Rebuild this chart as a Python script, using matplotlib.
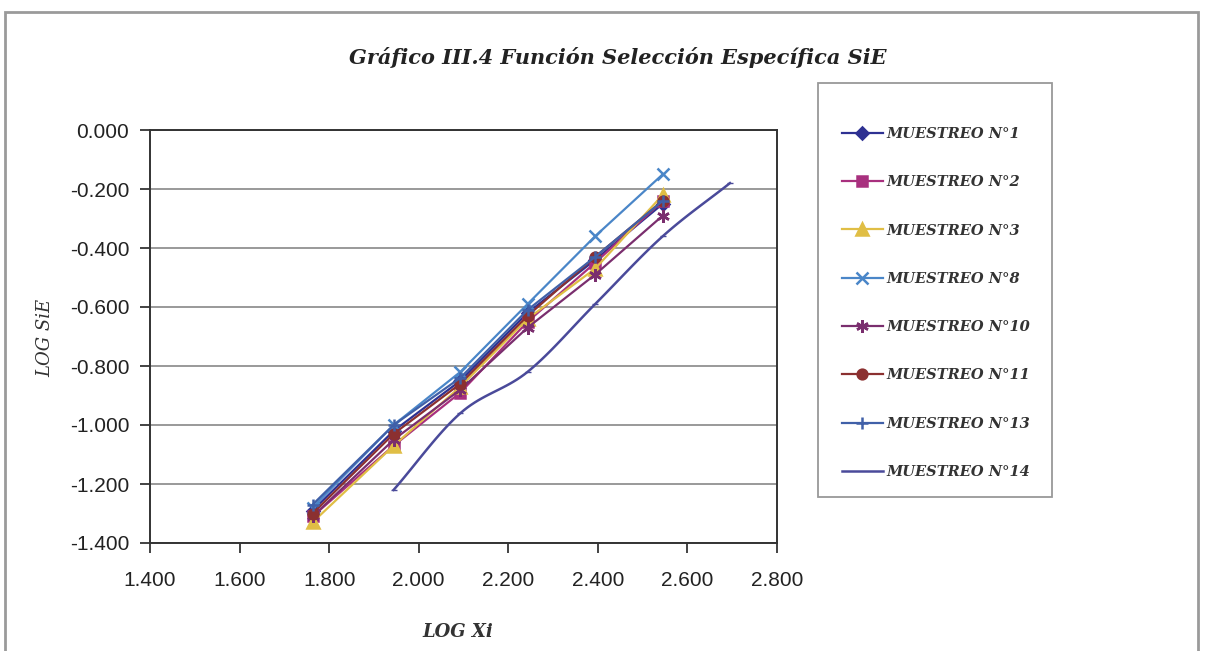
import numpy as np
import matplotlib
matplotlib.use('Agg')
import matplotlib.pyplot as plt
from matplotlib.patches import Rectangle
from matplotlib.lines import Line2D

# log of sieve sizes
log_x = [1.763, 1.944, 2.093, 2.243, 2.394, 2.545]
log_x14 = [1.944, 2.093, 2.243, 2.394, 2.545, 2.695]

m1 = [-1.29, -1.02, -0.85, -0.62, -0.44, -0.25]
m2 = [-1.31, -1.07, -0.89, -0.65, -0.45, -0.24]
m3 = [-1.33, -1.07, -0.87, -0.64, -0.47, -0.22]
m8 = [-1.28, -1.00, -0.82, -0.59, -0.36, -0.15]
m10 = [-1.31, -1.05, -0.88, -0.67, -0.49, -0.29]
m11 = [-1.30, -1.03, -0.86, -0.63, -0.43, -0.24]
m13 = [-1.27, -1.00, -0.84, -0.61, -0.43, -0.24]
m14 = [-1.22, -0.96, -0.82, -0.59, -0.36, -0.18]

labels = ['MUESTREO N°1', 'MUESTREO N°2', 'MUESTREO N°3', 'MUESTREO N°8',
          'MUESTREO N°10', 'MUESTREO N°11', 'MUESTREO N°13', 'MUESTREO N°14']

series = [
    (m1, '#2E3192', 'D', 6),
    (m2, '#A8307E', 's', 7),
    (m3, '#E0BE45', '^', 8),
    (m8, '#4A86C8', 'x', 8),
    (m10, '#7A2E6E', (6, 2, 0), 9),
    (m11, '#8B3030', 'o', 7),
    (m13, '#4060A8', '+', 9),
]


def smooth(xs, ys, n=20):
    # catmull-rom path through the points (like Excel's smoothed line)
    xs = np.asarray(xs, float)
    ys = np.asarray(ys, float)
    px = np.concatenate([[2 * xs[0] - xs[1]], xs, [2 * xs[-1] - xs[-2]]])
    py = np.concatenate([[2 * ys[0] - ys[1]], ys, [2 * ys[-1] - ys[-2]]])
    outx, outy = [], []
    t = np.linspace(0, 1, n)
    for i in range(1, len(px) - 2):
        for p, out in ((px, outx), (py, outy)):
            p0, p1, p2, p3 = p[i - 1], p[i], p[i + 1], p[i + 2]
            out.extend(0.5 * ((2 * p1) + (-p0 + p2) * t
                              + (2 * p0 - 5 * p1 + 4 * p2 - p3) * t ** 2
                              + (-p0 + 3 * p1 - 3 * p2 + p3) * t ** 3))
    return outx, outy


def fmt(v, pos):
    s = '%.3f' % v
    return '0.000' if s == '-0.000' else s


fig = plt.figure(figsize=(12.05, 6.51), dpi=100)
ax = fig.add_axes([150 / 1205, 1 - 543 / 651, 627 / 1205, 413 / 651])

handles = []
for (ys, c, mk, ms), lab in zip(series, labels):
    ax.plot(log_x, ys, color=c, lw=1.6, marker=mk, ms=ms, mew=1.8, zorder=3)
    handles.append(Line2D([], [], color=c, lw=1.6, marker=mk, ms=ms, mew=1.8, label=lab))

sx, sy = smooth(log_x14, m14)
ax.plot(sx, sy, color='#4A4A9A', lw=1.8, zorder=3)
ax.plot(log_x14, m14, ls='none', marker='_', ms=5, color='#4A4A9A', zorder=3)
handles.append(Line2D([], [], color='#4A4A9A', lw=1.8, label=labels[-1]))

ax.set_xlim(1.4, 2.8)
ax.set_ylim(-1.4, 0.0)
ax.set_xticks(np.arange(1.4, 2.81, 0.2))
ax.set_yticks(np.arange(-1.4, 0.01, 0.2))
ax.xaxis.set_major_formatter(matplotlib.ticker.FuncFormatter(fmt))
ax.yaxis.set_major_formatter(matplotlib.ticker.FuncFormatter(fmt))
ax.tick_params(direction='out', length=7, width=1.2, colors='#222222',
               labelsize=15, pad=8)
ax.tick_params(axis='x', pad=13)
for lab in ax.get_xticklabels() + ax.get_yticklabels():
    lab.set_family('Liberation Sans')
ax.grid(axis='y', color='#888888', lw=1.2)
ax.set_axisbelow(True)
for sp in ax.spines.values():
    sp.set_color('#333333')
    sp.set_linewidth(1.4)

fig.text(458 / 1205, 1 - 632 / 651, 'LOG Xi', ha='center', va='center',
         family='DejaVu Serif', style='italic', weight='bold', fontsize=13, color='#333333')
fig.text(45 / 1205, 1 - 338 / 651, 'LOG SiE', ha='center', va='center', rotation=90,
         family='DejaVu Serif', style='italic', fontsize=13, color='#333333')
fig.text(618 / 1205, 1 - 58 / 651, 'Gráfico III.4 Función Selección Específica SiE',
         ha='center', va='center', family='DejaVu Serif', style='italic',
         weight='bold', fontsize=15, color='#222222')

# legend box drawn separately, entries without frame
fig.patches.append(Rectangle((818 / 1205, 1 - 497 / 651), 234 / 1205, 414 / 651,
                             transform=fig.transFigure, facecolor='white',
                             edgecolor='#999999', lw=1.3))
leg = fig.legend(handles=handles, loc='upper left',
                 bbox_to_anchor=(842 / 1205, 1 - 127 / 651),
                 prop={'family': 'DejaVu Serif', 'style': 'italic', 'weight': 'bold', 'size': 10.5},
                 labelspacing=2.35, handlelength=2.8, handletextpad=0.25,
                 borderpad=0, borderaxespad=0, frameon=False)
for t in leg.get_texts():
    t.set_color('#333333')

fig.patches.append(Rectangle((5 / 1205, -0.05), 1193 / 1205, 1.05 - 12 / 651,
                             transform=fig.transFigure, fill=False,
                             edgecolor='#9a9a9a', lw=2))

fig.savefig('out.png', dpi=100)
